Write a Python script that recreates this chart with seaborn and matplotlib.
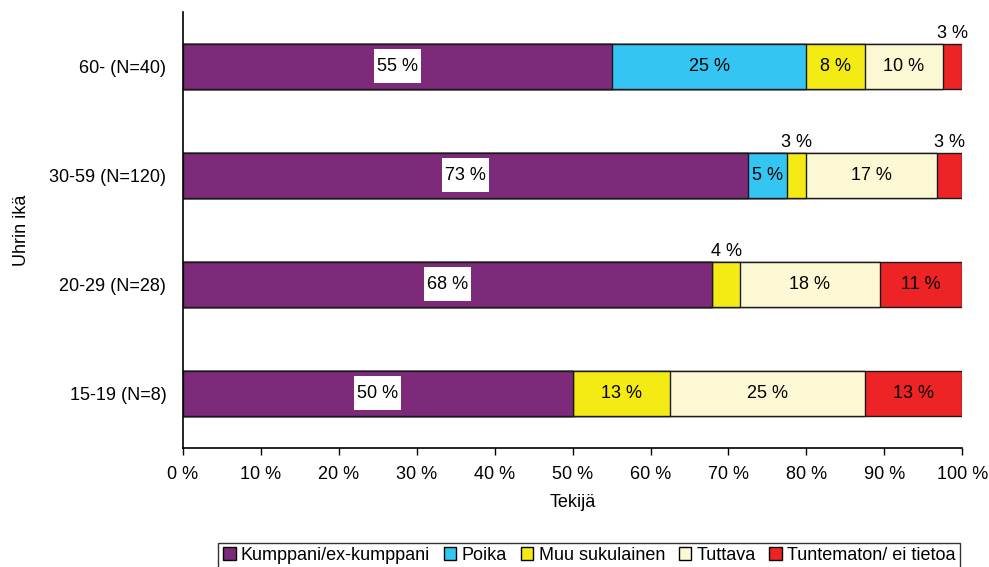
import matplotlib
matplotlib.use("Agg")
import matplotlib.pyplot as plt
from matplotlib.patches import Patch, Rectangle
import numpy as np
import seaborn as sns

# ---------------------------------------------------------------------------
# Data (percent of victims per perpetrator group, top row first)
# ---------------------------------------------------------------------------
age_groups = ["60- (N=40)", "30-59 (N=120)", "20-29 (N=28)", "15-19 (N=8)"]
series_names = ["Kumppani/ex-kumppani", "Poika", "Muu sukulainen",
                "Tuttava", "Tuntematon/ ei tietoa"]
kumppani = [55.0, 72.5, 67.9, 50.0]
poika = [25.0, 5.0, 0.0, 0.0]
muu_sukulainen = [7.5, 2.5, 3.6, 12.5]
tuttava = [10.0, 16.7, 17.9, 25.0]
tuntematon = [2.5, 3.3, 10.6, 12.5]
x_ticks = [0, 10, 20, 30, 40, 50, 60, 70, 80, 90, 100]

colours = ["#7E2A7B", "#35C5F2", "#F4EA14", "#FBF8D3", "#EE2325"]
FS = 13

sns.set_style("white")
plt.rcParams["font.family"] = ["Liberation Sans", "DejaVu Sans"]
for key in ["text.color", "axes.labelcolor", "xtick.color", "ytick.color"]:
    plt.rcParams[key] = "black"

series = np.array([kumppani, poika, muu_sukulainen, tuttava, tuntematon])
cum = np.cumsum(series, axis=0)

fig = plt.figure(figsize=(9.89, 5.67), dpi=100)
ax = fig.add_axes([0.185, 0.21, 0.788, 0.769])

# overlay cumulative bars, widest first, so each segment shows its own colour
for i in range(len(series) - 1, -1, -1):
    sns.barplot(x=cum[i], y=age_groups, order=age_groups, orient="h",
                color=colours[i], saturation=1, edgecolor="#1a1a1a",
                linewidth=1.0, width=0.42, ax=ax)

ax.set_xlim(0, 100)
ax.set_ylim(3.5, -0.5)

# white label box size (pixels -> data units)
ax_w_px = 0.788 * 989
ax_h_px = 0.769 * 567
box_w = 47 / ax_w_px * 100
box_h = 34 / ax_h_px * 4

bar_half = 0.21
for i in range(len(series)):
    for j in range(len(age_groups)):
        v = series[i][j]
        if v <= 0:
            continue
        left = cum[i][j] - v
        xc = left + v / 2
        txt = f"{int(v + 0.5)} %"
        if v < 4.5:
            ax.text(xc, j - bar_half - 0.01, txt, ha="center", va="bottom",
                    fontsize=FS)
        else:
            if i == 0:
                ax.add_patch(Rectangle((xc - box_w / 2, j - box_h / 2),
                                       box_w, box_h, facecolor="white",
                                       edgecolor="none", zorder=3))
            ax.text(xc, j, txt, ha="center", va="center", fontsize=FS,
                    zorder=4)

ax.set_xticks(x_ticks)
ax.set_xticklabels([f"{t} %" for t in x_ticks], fontsize=FS)
ax.tick_params(axis="x", direction="out", length=5, width=1, color="black",
               pad=8, bottom=True)
ax.tick_params(axis="y", length=0, labelsize=FS, pad=12)
ax.set_xlabel("Tekijä", fontsize=FS, labelpad=8)
ax.set_ylabel("Uhrin ikä", fontsize=FS, labelpad=14)

for side in ["top", "right"]:
    ax.spines[side].set_visible(False)
for side in ["left", "bottom"]:
    ax.spines[side].set_color("black")
    ax.spines[side].set_linewidth(1.2)

handles = [Patch(facecolor=c, edgecolor="black", linewidth=1) for c in colours]
leg = fig.legend(handles, series_names, loc="upper center",
                 bbox_to_anchor=(0.596, 0.043), ncol=5, fontsize=FS,
                 frameon=True, fancybox=False, edgecolor="black",
                 handlelength=0.7, handleheight=0.7, handletextpad=0.3,
                 columnspacing=0.75, borderpad=0.25, borderaxespad=0)
leg.get_frame().set_linewidth(1.0)

fig.savefig("out.png", dpi=100)
plt.close(fig)
